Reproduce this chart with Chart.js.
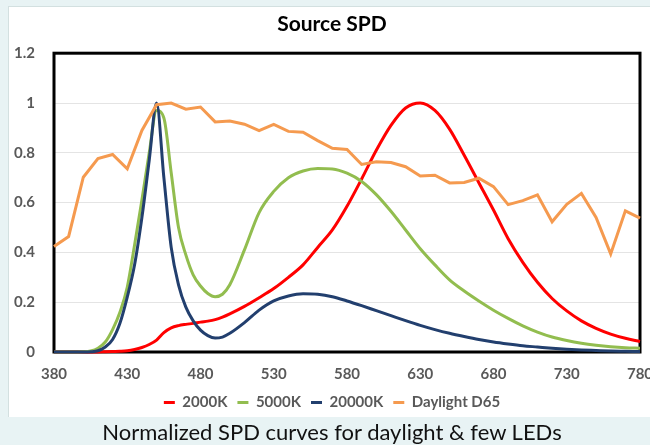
<!DOCTYPE html>
<html>
<head>
<meta charset="utf-8">
<script src="https://cdn.jsdelivr.net/npm/chart.js@4/dist/chart.umd.min.js"></script>
<style>
  html, body { margin: 0; padding: 0; }
  body { width: 650px; height: 445px; background: #e8f3f4; position: relative; overflow: hidden; }
  #box { position: absolute; left: 8px; top: 6px; width: 642px; height: 411px; background: #fff; border-top: 1px solid #d3e0e0; border-left: 1px solid #d3e0e0; box-sizing: border-box; }
  #wrap { position: absolute; left: 0; top: 0; width: 650px; height: 420px; }
  #caption { position: absolute; left: 0; top: 418px; width: 664px; text-align: center; font-family: Lato, sans-serif; font-size: 22px; color: #111; line-height: 28px; }
</style>
</head>
<body>
<div id="box"></div>
<div id="wrap"><canvas id="spdChart"></canvas></div>
<div id="caption">Normalized SPD curves for daylight &amp; few LEDs</div>
<script>
// wavelengths (nm) for the LED curves
var ledWl = [380, 390, 400,
  405, 410, 415, 420, 425, 430, 435, 440, 445, 450, 455, 460, 465, 470, 475, 480, 485, 490, 495, 500,
  510, 520, 530, 540, 550, 560, 570, 580, 590, 600, 610, 620, 630, 640, 650, 660, 670, 680, 690, 700,
  710, 720, 730, 740, 750, 760, 770, 780];

var led2000K = [0, 0, 0,
  0, 0, 0.001, 0.002, 0.003, 0.005, 0.01, 0.018, 0.03, 0.048, 0.078, 0.097, 0.106, 0.111, 0.115, 0.12, 0.124, 0.13, 0.14, 0.153,
  0.183, 0.218, 0.255, 0.3, 0.35, 0.42, 0.49, 0.585, 0.695, 0.81, 0.91, 0.98, 1.0, 0.97, 0.895, 0.79, 0.68, 0.57, 0.455, 0.36,
  0.28, 0.215, 0.165, 0.125, 0.095, 0.072, 0.055, 0.042];

var led5000K = [0, 0, 0.001,
  0.004, 0.015, 0.04, 0.09, 0.16, 0.26, 0.43, 0.61, 0.8, 0.97, 0.94, 0.72, 0.5, 0.39, 0.31, 0.265, 0.235, 0.222, 0.232, 0.27,
  0.41, 0.56, 0.645, 0.7, 0.727, 0.737, 0.735, 0.718, 0.685, 0.632, 0.565, 0.49, 0.415, 0.35, 0.29, 0.245, 0.205, 0.168, 0.135, 0.105,
  0.08, 0.06, 0.046, 0.035, 0.027, 0.021, 0.017, 0.015];

var led20000K = [0, 0, 0,
  0.001, 0.005, 0.02, 0.05, 0.115, 0.22, 0.35, 0.54, 0.77, 1.0, 0.7, 0.42, 0.27, 0.18, 0.125, 0.088, 0.066, 0.056, 0.06, 0.075,
  0.118, 0.168, 0.205, 0.225, 0.234, 0.232, 0.222, 0.205, 0.186, 0.166, 0.146, 0.126, 0.107, 0.09, 0.075, 0.062, 0.05, 0.04, 0.032, 0.025,
  0.02, 0.015, 0.011, 0.008, 0.006, 0.004, 0.003, 0.002];

// daylight D65, every 10 nm
var d65Wl = [380, 390, 400, 410, 420, 430, 440, 450, 460, 470, 480, 490, 500, 510, 520, 530, 540, 550, 560, 570,
  580, 590, 600, 610, 620, 630, 640, 650, 660, 670, 680, 690, 700, 710, 720, 730, 740, 750, 760, 770, 780];
var d65 = [0.424, 0.464, 0.702, 0.777, 0.793, 0.736, 0.89, 0.993, 1.0, 0.975, 0.984, 0.924, 0.928, 0.915, 0.889, 0.914, 0.886, 0.883, 0.849, 0.818,
  0.813, 0.753, 0.764, 0.761, 0.744, 0.707, 0.71, 0.679, 0.681, 0.698, 0.664, 0.592, 0.608, 0.631, 0.523, 0.593, 0.637, 0.54, 0.394, 0.567, 0.538];

var xTicks = [380, 430, 480, 530, 580, 630, 680, 730, 780];
var yTicks = [0, 0.2, 0.4, 0.6, 0.8, 1, 1.2];

var seriesNames = ["2000K", "5000K", "20000K", "Daylight D65"];
var seriesColors = ["#ff0000", "#92bd4f", "#223f6e", "#f59a4f"];

function pairs(xs, ys) {
  return xs.map(function (x, i) { return { x: x, y: ys[i] }; });
}

var ledSeries = [led2000K, led5000K, led20000K];
var datasets = ledSeries.map(function (vals, i) {
  return {
    label: seriesNames[i],
    data: pairs(ledWl, vals),
    borderColor: seriesColors[i],
    backgroundColor: seriesColors[i],
    borderWidth: 3,
    pointRadius: 0,
    cubicInterpolationMode: "monotone",
    clip: false,
    order: 4 - i
  };
});
datasets.push({
  label: seriesNames[3],
  data: pairs(d65Wl, d65),
  borderColor: seriesColors[3],
  backgroundColor: seriesColors[3],
  borderWidth: 3,
  pointRadius: 0,
  tension: 0,
  clip: false,
  order: 1
});

// black frame round the plot area, like the Excel chart
var plotFrame = {
  id: "plotFrame",
  beforeDatasetsDraw: function (chart) {
    var a = chart.chartArea;
    var ctx = chart.ctx;
    ctx.save();
    ctx.strokeStyle = "#000";
    ctx.lineWidth = 3;
    ctx.strokeRect(a.left, a.top, a.right - a.left, a.bottom - a.top);
    ctx.restore();
  }
};

// title and legend sit a little right of the canvas centre in the original
var nudgeText = {
  id: "nudgeText",
  afterLayout: function (chart) {
    [chart.titleBlock, chart.legend].forEach(function (b) {
      if (b) { b.left += 5; b.right += 5; }
    });
  }
};

var tickFont = { family: "Lato", size: 15, weight: "bold" };

new Chart(document.getElementById("spdChart"), {
  type: "line",
  data: { datasets: datasets },
  plugins: [plotFrame, nudgeText],
  options: {
    responsive: true,
    maintainAspectRatio: false,
    animation: false,
    layout: { padding: { left: 14, right: 10, top: 0, bottom: 0 } },
    plugins: {
      tooltip: { enabled: false },
      title: {
        display: true,
        text: "Source SPD",
        color: "#000",
        font: { family: "Lato", size: 21, weight: "bold" },
        padding: { top: 12, bottom: 16 }
      },
      legend: {
        position: "bottom",
        labels: {
          color: "#595959",
          font: { family: "Lato", size: 15, weight: "bold" },
          usePointStyle: true,
          pointStyleWidth: 11,
          pointStyle: "line",
          padding: 10,
          sort: function (a, b) { return a.datasetIndex - b.datasetIndex; }
        }
      }
    },
    scales: {
      x: {
        type: "linear",
        min: 380,
        max: 780,
        afterBuildTicks: function (s) { s.ticks = xTicks.map(function (v) { return { value: v }; }); },
        afterFit: function (s) { s.paddingLeft = 0; s.paddingRight = 0; s.height = 33; },
        grid: { display: false, drawTicks: false },
        border: { display: false },
        ticks: { color: "#595959", font: tickFont, padding: 13, maxRotation: 0 }
      },
      y: {
        min: 0,
        max: 1.2,
        afterBuildTicks: function (s) { s.ticks = yTicks.map(function (v) { return { value: v }; }); },
        afterFit: function (s) { s.width = 40; },
        grid: { color: "#e4e4e4", lineWidth: 1, drawTicks: false },
        border: { display: false },
        ticks: {
          color: "#595959",
          font: tickFont,
          padding: 19,
          callback: function (v) { return String(v); }
        }
      }
    }
  }
});
</script>
</body>
</html>
